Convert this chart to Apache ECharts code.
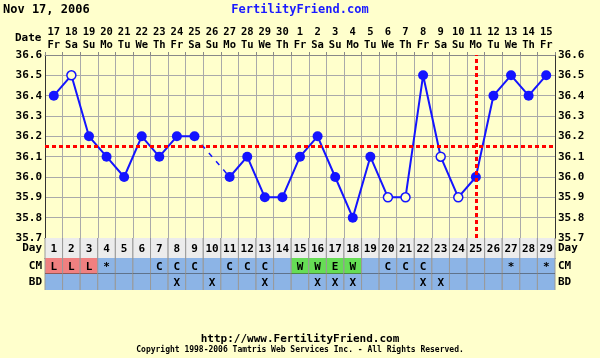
<!DOCTYPE html>
<html><head><meta charset="utf-8">
<script src="https://cdn.jsdelivr.net/npm/echarts@6/dist/echarts.min.js"></script>
<style>html,body{margin:0;padding:0;background:#ffffcc;}#c{width:600px;height:358px;}</style>
</head><body><div id="c"></div>
<script>
// ---- data ----
const dates = ['17','18','19','20','21','22','23','24','25','26','27','28','29','30','1','2','3','4','5','6','7','8','9','10','11','12','13','14','15'];
const weekdays = ['Fr','Sa','Su','Mo','Tu','We','Th','Fr','Sa','Su','Mo','Tu','We','Th','Fr','Sa','Su','Mo','Tu','We','Th','Fr','Sa','Su','Mo','Tu','We','Th','Fr'];
const cycleDays = ['1','2','3','4','5','6','7','8','9','10','11','12','13','14','15','16','17','18','19','20','21','22','23','24','25','26','27','28','29'];
const temps = [36.4,36.5,36.2,36.1,36.0,36.2,36.1,36.2,36.2,null,36.0,36.1,35.9,35.9,36.1,36.2,36.0,35.8,36.1,35.9,35.9,36.5,36.1,35.9,36.0,36.4,36.5,36.4,36.5];
const openTemp = [0,1,0,0,0,0,0,0,0,0,0,0,0,0,0,0,0,0,0,1,1,0,1,1,0,0,0,0,0];
const cm = ['L','L','L','*','','','C','C','C','','C','C','C','','W','W','E','W','','C','C','C','','','','','*','','*'];
const bd = ['','','','','','','','X','','X','','','X','','','X','X','X','','','','X','X','','','','','',''];
const coverline = 36.15;
const ovulationDate = '11';
const tempMin = 35.7, tempMax = 36.6, tempStep = 0.1;

// ---- styles ----
const FONT = 'DejaVu Sans Mono';
const BLUE = '#1414ff';
const BG = '#ffffcc';
const cmColors = {L:'#f08080', W:'#66dd55', E:'#66dd55'};
const cellBlue = '#8cb4e6';

const chart = echarts.init(document.getElementById('c'), null, {renderer:'canvas'});

function cellRender(texts, fillFn, bottomDark){
  return function(params, api){
    const c = api.coord([api.value(0), api.value(1)]);
    const s = api.size([1, 1]);
    const l = c[0] - s[0]/2, t = c[1] - s[1]/2;
    const txt = texts[params.dataIndex];
    const children = [
      {type:'rect', shape:{x:l, y:t, width:s[0], height:s[1]}, style:{fill: fillFn(txt)}},
      {type:'line', shape:{x1:l, y1:t, x2:l, y2:t+s[1]}, style:{stroke:'#999', lineWidth:1}},
      {type:'line', shape:{x1:l+s[0], y1:t, x2:l+s[0], y2:t+s[1]}, style:{stroke:'#999', lineWidth:1}},
      {type:'text', style:{text:txt, x:c[0], y:c[1]+1, align:'center', verticalAlign:'middle', font:'bold 11px ' + FONT, fill:'#000'}}
    ];
    if (bottomDark) children.push({type:'line', shape:{x1:l, y1:t+s[1], x2:l+s[0], y2:t+s[1]}, style:{stroke:'#333', lineWidth:1}});
    return {type:'group', children};
  };
}

const mainData = temps.map((v,i) => v == null ? null : (openTemp[i] ? {value:v, symbolSize:9, itemStyle:{color:BG, borderColor:BLUE, borderWidth:1.5}} : v));
const gapData = temps.map((v,i) => (v != null && (temps[i-1] === null || temps[i+1] === null)) ? v : null);

const lblStyle = {fontFamily:FONT, fontWeight:'bold', fontSize:11, color:'#000'};

chart.setOption({
  animation:false,
  backgroundColor:BG,
  title:[
    {text:'Nov 17, 2006', left:3, top:4, padding:0, textStyle:{fontFamily:FONT, fontWeight:'bold', fontSize:12, color:'#000'}},
    {text:'FertilityFriend.com', left:'center', top:4, padding:0, textStyle:{fontFamily:FONT, fontWeight:'bold', fontSize:12, color:'#1a1aff'}},
    {text:'Date', left:15, top:33, padding:0, textStyle:lblStyle},
    {text:'http://www.FertilityFriend.com', left:'center', top:334, padding:0, textStyle:{fontFamily:FONT, fontWeight:'bold', fontSize:11, color:'#000'}},
    {text:'Copyright 1998-2006 Tamtris Web Services Inc. - All Rights Reserved.', left:'center', top:346, padding:0, textStyle:{fontFamily:FONT, fontSize:8, color:'#000'}}
  ],
  grid:[
    {left:45, right:45, top:55, height:183},
    {left:45, right:45, top:238, height:20},
    {left:45, right:45, top:258, height:32}
  ],
  xAxis:[
    {gridIndex:0, type:'category', data:dates, position:'top',
     axisLine:{show:true, lineStyle:{color:'#888'}}, axisTick:{show:true, length:3, lineStyle:{color:'#888'}},
     axisLabel:{interval:0, margin:3.5, lineHeight:13, ...lblStyle, fontSize:10.5, formatter:(v,i)=> v + '\n' + weekdays[i]},
     splitLine:{show:true, lineStyle:{color:'#aaa', width:1}}},
    {gridIndex:0, type:'category', data:dates, position:'bottom',
     axisLine:{show:true, lineStyle:{color:'#000'}}, axisTick:{show:false}, axisLabel:{show:false}, splitLine:{show:false}},
    {gridIndex:1, type:'category', data:cycleDays, position:'bottom',
     axisLine:{show:true, lineStyle:{color:'#333'}}, axisTick:{show:false}, axisLabel:{show:false}, splitLine:{show:false}},
    {gridIndex:2, type:'category', data:cycleDays, position:'bottom',
     axisLine:{show:false}, axisTick:{show:false}, axisLabel:{show:false}, splitLine:{show:false}}
  ],
  yAxis:[
    {gridIndex:0, type:'value', min:tempMin, max:tempMax, interval:tempStep, position:'left',
     axisLine:{show:true, lineStyle:{color:'#333'}}, axisTick:{show:false},
     axisLabel:{margin:3, ...lblStyle, formatter:v=>v.toFixed(1)},
     splitLine:{show:true, lineStyle:{color:'#aaa', width:1}}},
    {gridIndex:0, type:'value', min:tempMin, max:tempMax, interval:tempStep, position:'right',
     axisLine:{show:true, lineStyle:{color:'#333'}}, axisTick:{show:false},
     axisLabel:{margin:3, ...lblStyle, formatter:v=>v.toFixed(1)}, splitLine:{show:false}},
    {gridIndex:1, type:'category', data:['Day'], position:'left', axisLine:{show:false}, axisTick:{show:false}, axisLabel:{margin:3, ...lblStyle}},
    {gridIndex:1, type:'category', data:['Day'], position:'right', axisLine:{show:false}, axisTick:{show:false}, axisLabel:{margin:3, ...lblStyle}},
    {gridIndex:2, type:'category', data:['BD','CM'], position:'left', axisLine:{show:false}, axisTick:{show:false}, axisLabel:{margin:3, ...lblStyle}},
    {gridIndex:2, type:'category', data:['BD','CM'], position:'right', axisLine:{show:false}, axisTick:{show:false}, axisLabel:{margin:3, ...lblStyle}}
  ],
  series:[
    {type:'line', xAxisIndex:0, yAxisIndex:0, data:gapData, connectNulls:true, showSymbol:false, symbol:'none',
     lineStyle:{color:BLUE, width:1.5, type:[5,6]}, z:2},
    {type:'line', xAxisIndex:0, yAxisIndex:0, data:mainData, connectNulls:false,
     symbol:'circle', symbolSize:10, itemStyle:{color:BLUE}, lineStyle:{color:BLUE, width:2}, z:3,
     markLine:{silent:true, symbol:'none', label:{show:false},
       lineStyle:{color:'#ff0000', width:3, type:[4,3]},
       data:[{yAxis:coverline}, {xAxis:ovulationDate}]}},
    {type:'custom', xAxisIndex:2, yAxisIndex:2, data:cycleDays.map((d,i)=>[i,'Day']),
     renderItem:cellRender(cycleDays, ()=>'#ececec', false)},
    {type:'custom', xAxisIndex:3, yAxisIndex:4, data:cm.map((d,i)=>[i,'CM']),
     renderItem:cellRender(cm, t=>cmColors[t]||cellBlue, true)},
    {type:'custom', xAxisIndex:3, yAxisIndex:4, data:bd.map((d,i)=>[i,'BD']),
     renderItem:cellRender(bd, ()=>cellBlue, false)}
  ]
});
</script></body></html>
